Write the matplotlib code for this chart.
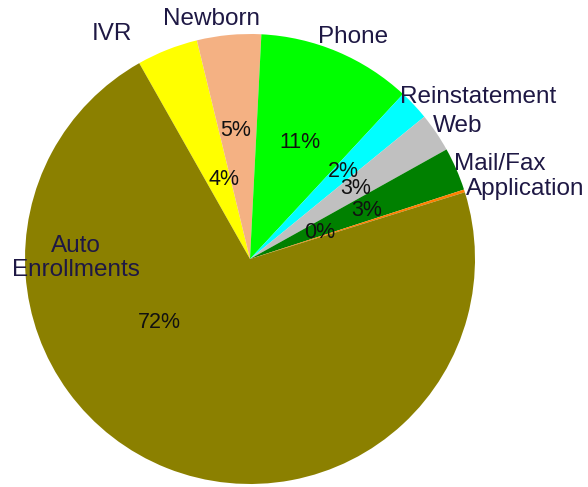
import numpy as np
import matplotlib
matplotlib.use("Agg")
import matplotlib.pyplot as plt

plt.rcParams['font.family'] = ['Liberation Sans', 'DejaVu Sans']

# data (percent of total), clockwise from the IVR / Auto boundary
labels = ["IVR", "Newborn", "Phone", "Reinstatement", "Web", "Mail/Fax",
          "Application", "Auto\nEnrollments"]
values = [4.4, 4.6, 11.1, 2.2, 2.8, 3.1, 0.2, 71.6]
colors = ["#ffff00", "#f4b183", "#00ff00", "#00ffff", "#c0c0c0", "#008000",
          "#ff8000", "#8b8000"]

# label layout (angle in deg, distance in radii)
name_pos = [(121.5, 1.173), (99, 1.08), (65, 1.089), (35.4, 1.244),
            (32.6, 1.098), (20.8, 1.187), (14.3, 1.262), (179.7, 0.773)]
pct_pos = [(108, 0.37), (96.2, 0.573), (66.9, 0.564), (43.0, 0.57),
           (34, 0.564), (22.7, 0.564), (20.6, 0.33), (215, 0.49)]

W, H = 588, 487
R = 225.0
cx, cy = 250, 259
fig = plt.figure(figsize=(W/100, H/100), dpi=100)
ax = fig.add_axes([0, 0, 1, 1])

ax.pie(values, colors=colors, startangle=119.5, counterclock=False,
       radius=1, wedgeprops=dict(linewidth=0))

total = sum(values)
for lab, v, (a, r), (pa, pr) in zip(labels, values, name_pos, pct_pos):
    t = np.deg2rad(a)
    ax.text(r*np.cos(t), r*np.sin(t), lab, ha="center", va="center",
            fontsize=17.5, color="#1e1844", linespacing=1.1)
    t = np.deg2rad(pa)
    ax.text(pr*np.cos(t), pr*np.sin(t), "%d%%" % round(v/total*100),
            ha="center", va="center", fontsize=15.5, color="#111111")

ax.set_xlim(-cx/R, (W-cx)/R)
ax.set_ylim(-(H-cy)/R, cy/R)
ax.set_aspect("auto")
ax.axis("off")

plt.savefig("out.png", dpi=100)
